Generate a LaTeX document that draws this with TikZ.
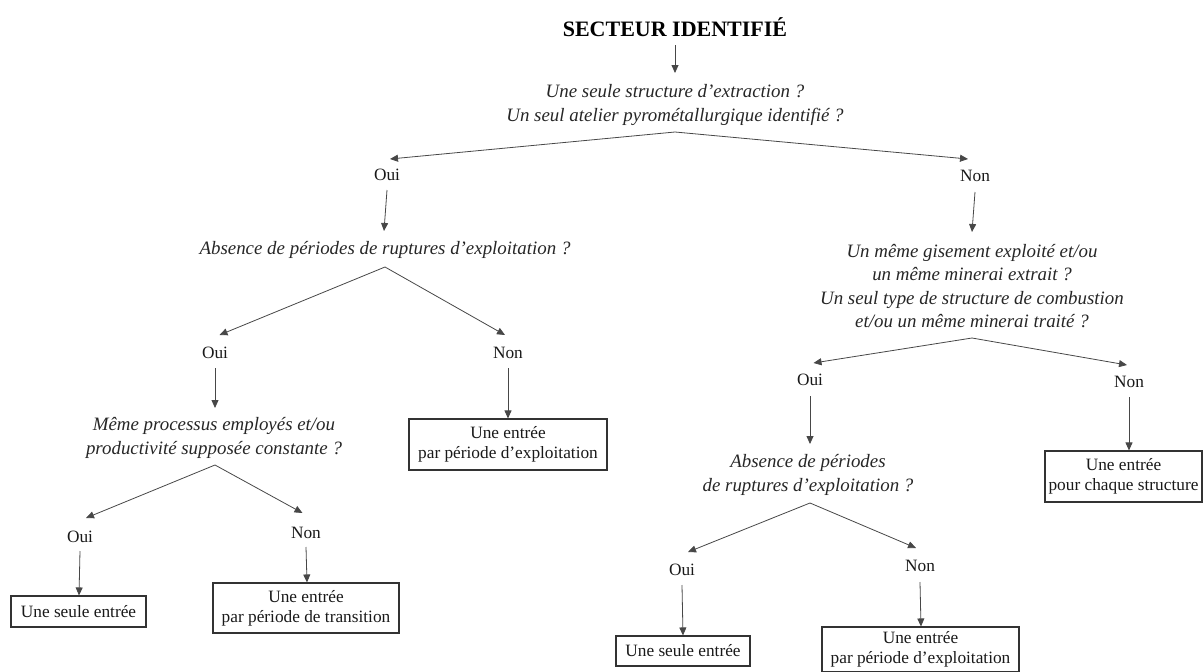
\documentclass[tikz,border=0pt]{standalone}
\usepackage{fontspec}
\setmainfont{Liberation Serif}
\usetikzlibrary{arrows.meta}
\begin{document}
\begin{tikzpicture}[x=1pt,y=-1pt,
  line/.style={draw=black!72, line width=0.8pt},
  arr/.style={line, -{Triangle[length=8pt,width=7pt]}},
  qtext/.style={font=\fontsize{18.9}{23.2}\selectfont\itshape, align=center, inner sep=0pt, text=black!85},
  lab/.style={font=\fontsize{17.3}{20}\selectfont, inner sep=0pt, text=black!90},
  res/.style={draw=black!80, line width=1.1pt, font=\fontsize{17.3}{20.3}\selectfont, align=center, inner sep=0pt, text=black!90},
]
\useasboundingbox (0,0) rectangle (1203,672);

% title and first question
\node[font=\fontsize{22}{26}\selectfont\bfseries] (title) at (675,27) {SECTEUR IDENTIFIÉ};
\node[qtext] (q1) at (675,105) {Une seule structure d’extraction ?\\Un seul atelier pyrométallurgique identifié ?};

% level 1 labels
\node[lab] (oui1) at (387,175) {Oui};
\node[lab] (non1) at (975,176) {Non};

% left branch
\node[qtext] (q2) at (385,250) {Absence de périodes de ruptures d’exploitation ?};
\node[lab] (oui2) at (215,353) {Oui};
\node[lab] (non2) at (508,353) {Non};
\node[qtext] (q3) at (214,438) {Même processus employés et/ou\\productivité supposée constante ?};
\node[res, minimum width=198, minimum height=51] (b3) at (508,444.5) {Une entrée\\par période d’exploitation};
\node[lab] (oui3) at (80,537) {Oui};
\node[lab] (non3) at (306,533) {Non};
\node[res, minimum width=135, minimum height=31] (b1) at (78.5,611.5) {Une seule entrée};
\node[res, minimum width=186, minimum height=50] (b2) at (306,608) {Une entrée\\par période de transition};

% right branch
\node[qtext] (q4) at (972,286) {Un même gisement exploité et/ou\\un même minerai extrait ?\\Un seul type de structure de combustion\\et/ou un même minerai traité ?};
\node[lab] (oui4) at (810,380) {Oui};
\node[lab] (non4) at (1129,382) {Non};
\node[res, minimum width=157, minimum height=51] (b4) at (1123.5,476.5) {Une entrée\\pour chaque structure};
\node[qtext] (q5) at (808,475) {Absence de périodes\\de ruptures d’exploitation ?};
\node[lab] (oui5) at (682,570) {Oui};
\node[lab] (non5) at (920,566) {Non};
\node[res, minimum width=134, minimum height=30] (b6) at (683,651) {Une seule entrée};
\node[res, minimum width=197, minimum height=45] (b5) at (920.5,649.5) {Une entrée\\par période d’exploitation};

% connectors
\draw[arr] ([yshift=-18pt]title.center) -- ([yshift=32pt]q1.center);
\draw[arr] ([yshift=-27pt]q1.center) -- ([xshift=3pt,yshift=16pt]oui1.center);
\draw[arr] ([yshift=-27pt]q1.center) -- ([xshift=-7pt,yshift=17pt]non1.center);

\draw[arr] ([yshift=-15pt]oui1.center) -- ([xshift=-1pt,yshift=19pt]q2.center);
\draw[arr] ([yshift=-17pt]q2.center) -- ([xshift=4.5pt,yshift=18pt]oui2.center);
\draw[arr] ([yshift=-17pt]q2.center) -- ([xshift=-3pt,yshift=18pt]non2.center);
\draw[arr] ([yshift=-15pt]oui2.center) -- ([xshift=1pt,yshift=30pt]q3.center);
\draw[arr] ([yshift=-15pt]non2.center) -- (non2 |- b3.north);
\draw[arr] ([xshift=1pt,yshift=-27pt]q3.center) -- ([xshift=6pt,yshift=19pt]oui3.center);
\draw[arr] ([xshift=1pt,yshift=-27pt]q3.center) -- ([xshift=-3.5pt,yshift=20pt]non3.center);
\draw[arr] ([yshift=-14pt]oui3.center) -- ([xshift=-1pt]oui3 |- b1.north);
\draw[arr] ([yshift=-14pt]non3.center) -- ([xshift=1pt]non3 |- b2.north);

\draw[arr] ([yshift=-16pt]non1.center) -- ([xshift=0pt,yshift=54pt]q4.center);
\draw[arr] ([yshift=-52pt]q4.center) -- ([xshift=3.5pt,yshift=17pt]oui4.center);
\draw[arr] ([yshift=-52pt]q4.center) -- ([xshift=-2pt,yshift=17pt]non4.center);
\draw[arr] ([yshift=-16pt]oui4.center) -- ([xshift=2pt,yshift=31pt]q5.center);
\draw[arr] ([yshift=-15pt]non4.center) -- (non4 |- b4.north);
\draw[arr] ([xshift=2pt,yshift=-28pt]q5.center) -- ([xshift=6pt,yshift=18pt]oui5.center);
\draw[arr] ([xshift=2pt,yshift=-28pt]q5.center) -- ([xshift=-4pt,yshift=18pt]non5.center);
\draw[arr] ([yshift=-15pt]oui5.center) -- ([xshift=1pt]oui5 |- b6.north);
\draw[arr] ([yshift=-16pt]non5.center) -- ([xshift=1pt]non5 |- b5.north);
\end{tikzpicture}
\end{document}
